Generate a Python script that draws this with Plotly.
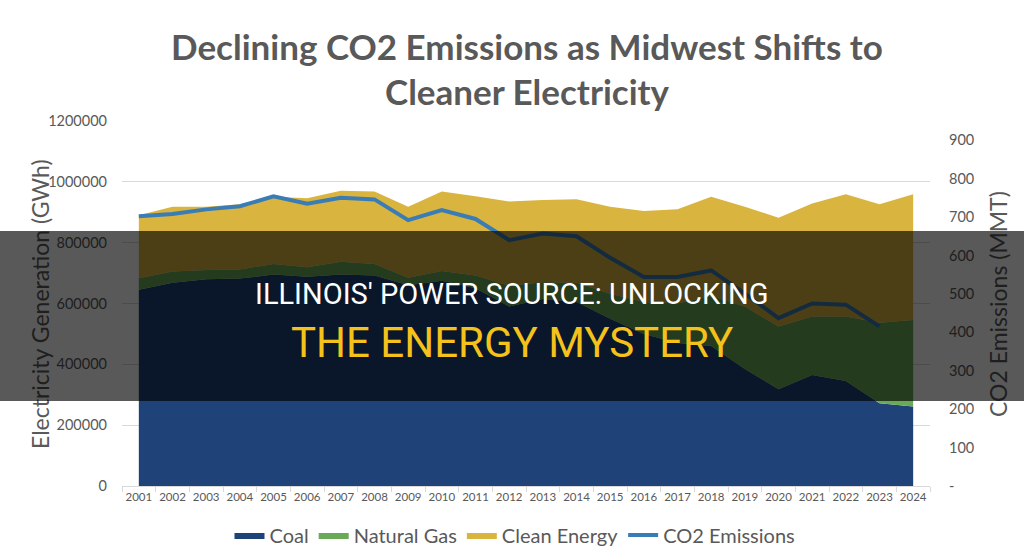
import plotly.graph_objects as go

years = ["2001", "2002", "2003", "2004", "2005", "2006", "2007", "2008",
         "2009", "2010", "2011", "2012", "2013", "2014", "2015", "2016",
         "2017", "2018", "2019", "2020", "2021", "2022", "2023", "2024"]

coal_gwh = [645000, 668000, 680000, 682000, 695000, 688000, 695000, 692000,
            660000, 675000, 650000, 590000, 615000, 605000, 550000, 500000,
            470000, 460000, 385000, 318000, 365000, 345000, 272000, 261000]

natural_gas_gwh = [38000, 37000, 30000, 30000, 35000, 31000, 42000, 38000,
                   25000, 32000, 42000, 68000, 55000, 63000, 82000, 105000,
                   130000, 165000, 205000, 206000, 192000, 212000, 265000, 285000]

clean_energy_gwh = [207000, 213000, 208000, 214000, 221000, 227000, 234000, 238000,
                    233000, 261000, 261000, 277000, 270000, 275000, 286000, 299000,
                    310000, 326000, 328000, 358000, 372000, 402000, 389000, 413000]

co2_mmt = [702, 708, 720, 728, 754, 735, 750, 746, 692, 718, 695, 640,
           657, 650, 594, 544, 544, 561, 501, 437, 475, 472, 415, None]

left_ticks = [0, 200000, 400000, 600000, 800000, 1000000, 1200000]
right_ticks = [0, 100, 200, 300, 400, 500, 600, 700, 800, 900]
right_ticktext = ["-", "100", "200", "300", "400", "500", "600", "700", "800", "900"]

title_line1 = "Declining CO2 Emissions as Midwest Shifts to"
title_line2 = "Cleaner Electricity"
banner_line1 = "ILLINOIS' POWER SOURCE: UNLOCKING"
banner_line2 = "THE ENERGY MYSTERY"

GRAY = "#595959"
FONT = "Lato"

W, H = 1024, 559
L, R, T, B = 122, 94, 121, 73
PW, PH = W - L - R, H - T - B


def px(x):
    return (x - L) / PW


def py(y):
    return (H - B - y) / PH


fig = go.Figure()

fig.add_trace(go.Scatter(x=years, y=coal_gwh, name="Coal", mode="lines",
                         stackgroup="gen", line=dict(width=0, color="#1f4378"),
                         fillcolor="#1f4378"))
fig.add_trace(go.Scatter(x=years, y=natural_gas_gwh, name="Natural Gas", mode="lines",
                         stackgroup="gen", line=dict(width=0, color="#6aa956"),
                         fillcolor="#6aa956"))
fig.add_trace(go.Scatter(x=years, y=clean_energy_gwh, name="Clean Energy", mode="lines",
                         stackgroup="gen", line=dict(width=0, color="#d9b43e"),
                         fillcolor="#d9b43e"))
fig.add_trace(go.Scatter(x=years, y=co2_mmt, name="CO2 Emissions", mode="lines",
                         yaxis="y2", line=dict(width=4, color="#3a7cb6"),
                         connectgaps=False))

annotations = [
    dict(text=title_line1, x=px(527), y=py(46), xref="paper", yref="paper",
         showarrow=False, font=dict(family=FONT, size=35, color=GRAY, weight="bold"),
         xanchor="center", yanchor="middle"),
    dict(text=title_line2, x=px(527), y=py(91), xref="paper", yref="paper",
         showarrow=False, font=dict(family=FONT, size=35, color=GRAY, weight="bold"),
         xanchor="center", yanchor="middle"),
    dict(text="Electricity Generation (GWh)", x=px(40), y=py(304), xref="paper", yref="paper",
         showarrow=False, textangle=-90, font=dict(family=FONT, size=23, color=GRAY),
         xanchor="center", yanchor="middle"),
    dict(text="CO2 Emissions (MMT)", x=px(998), y=py(304), xref="paper", yref="paper",
         showarrow=False, textangle=-90, font=dict(family=FONT, size=23, color=GRAY),
         xanchor="center", yanchor="middle"),
    # dark banner overlay
    dict(text=" ", x=px(512), y=py(316), xref="paper", yref="paper",
         showarrow=False, width=1030, height=170, bgcolor="rgba(0,0,0,0.65)",
         borderpad=0, borderwidth=0, xanchor="center", yanchor="middle"),
    dict(text=banner_line1, x=px(512), y=py(294), xref="paper", yref="paper",
         showarrow=False, font=dict(family="Roboto", size=29, color="#ffffff"),
         xanchor="center", yanchor="middle"),
    dict(text=banner_line2, x=px(512), y=py(342), xref="paper", yref="paper",
         showarrow=False, font=dict(family="Roboto", size=42, color="#f5c21b"),
         xanchor="center", yanchor="middle"),
]

fig.update_layout(
    width=W, height=H,
    margin=dict(l=L, r=R, t=T, b=B, pad=0, autoexpand=False),
    paper_bgcolor="white", plot_bgcolor="white",
    font=dict(family=FONT, color=GRAY),
    showlegend=True,
    legend=dict(orientation="h", x=px(515), y=py(535), xanchor="center", yanchor="middle",
                font=dict(family=FONT, size=20, color=GRAY), traceorder="normal",
                itemwidth=30, bgcolor="rgba(0,0,0,0)"),
    xaxis=dict(type="category", range=[-0.5, 23.5], showgrid=False, automargin=False,
               showline=True, linecolor="#d9d9d9", linewidth=1, tickangle=0,
               ticks="outside", tickson="boundaries", ticklen=5, tickcolor="#d9d9d9",
               tickfont=dict(family=FONT, size=11.5, color=GRAY)),
    yaxis=dict(range=[0, 1200000], tickvals=left_ticks, tickformat="d", automargin=False,
               showgrid=True, gridcolor="#d9d9d9", gridwidth=1, zeroline=False,
               showline=False, ticks="", ticklabelstandoff=14,
               tickfont=dict(family=FONT, size=14.5, color=GRAY)),
    yaxis2=dict(range=[0, 950], overlaying="y", side="right", tickvals=right_ticks,
                ticktext=right_ticktext, showgrid=False, zeroline=False, showline=False,
                ticks="", ticklabelstandoff=18, automargin=False,
                tickfont=dict(family=FONT, size=14.5, color=GRAY)),
    annotations=annotations,
)

fig.write_html("out.html")
